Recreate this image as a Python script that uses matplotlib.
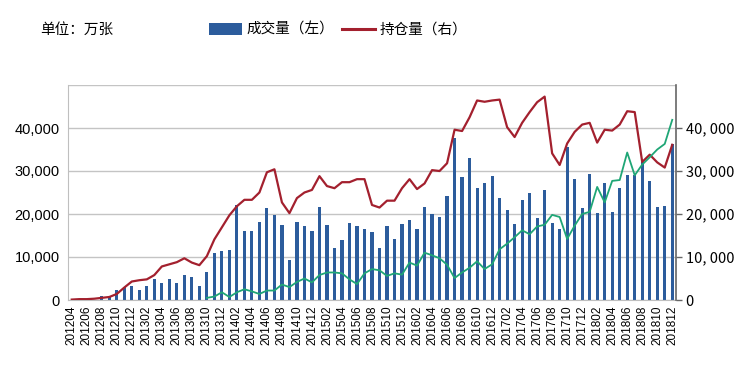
import matplotlib
matplotlib.use("Agg")
import matplotlib.pyplot as plt
import matplotlib.ticker as mticker
from matplotlib.patches import Patch
from matplotlib.lines import Line2D
import numpy as np

months = [f"{y}{m:02d}" for y in range(2012, 2019) for m in range(1, 13)][3:]  # 201204..201812

volume = [0, 0, 0, 0, 900, 600, 2400, 3000, 3200, 2400,
          3200, 5000, 4000, 4800, 4000, 5700, 5300, 3300, 6600, 11000,
          11300, 11700, 22100, 16100, 16100, 18100, 21500, 19800, 17400, 9400,
          18200, 17100, 16000, 21700, 17500, 12200, 14000, 18000, 17100, 16400,
          15700, 12200, 17200, 14100, 17700, 18600, 16400, 21700, 19900, 19200,
          24200, 37600, 28600, 33100, 26100, 27300, 28900, 23700, 20900, 17700,
          23300, 24800, 19000, 25600, 18000, 16400, 35600, 28100, 21300, 29400,
          20300, 27100, 20400, 26100, 29100, 29100, 32000, 27600, 21600, 21800,
          36200]

open_interest = [100, 200, 200, 300, 500, 700, 1400, 2900, 4300, 4600,
                 4800, 5800, 7800, 8300, 8800, 9700, 8700, 8100, 10200, 14100,
                 16900, 19700, 21800, 23300, 23300, 25000, 29700, 30400, 22700, 20200,
                 23700, 25000, 25600, 28800, 26500, 26000, 27400, 27400, 28100, 28100,
                 22100, 21500, 23100, 23100, 26000, 28100, 25800, 27100, 30200, 30000,
                 31800, 39600, 39300, 42500, 46400, 46100, 46400, 46600, 40200, 37900,
                 41200, 43700, 46000, 47300, 34100, 31400, 36400, 39100, 40800, 41200,
                 36600, 39600, 39400, 40800, 43900, 43700, 32100, 33800, 32000, 30800,
                 36100]

green_series = [None] * 18 + [500, 800,
                1800, 700, 1800, 2500, 2000, 1400, 2200, 2200, 3600, 3000,
                4200, 5000, 4100, 5800, 6400, 6400, 6200, 4800, 3700, 6200,
                7200, 6900, 5600, 6200, 5900, 8700, 8000, 11000, 10400, 9700,
                8200, 5100, 6400, 7500, 9000, 7200, 8300, 11800, 13100, 14600,
                16200, 15300, 17100, 17500, 19800, 19300, 14200, 17300, 20000, 20500,
                26300, 22700, 27700, 27900, 34300, 29000, 31500, 33200, 35000, 36300,
                41900]

left_ticks = [0, 10000, 20000, 30000, 40000]
right_ticks = [0, 10000, 20000, 30000, 40000]

BLUE = "#2C5C9C"
RED = "#A3202E"
GREEN = "#1FA676"
GRID = "#C4C4C4"
CJK = ["Noto Sans CJK SC", "DejaVu Sans"]

fig = plt.figure(figsize=(7.55, 3.83), dpi=100)
ax = fig.add_axes([68 / 755, 1 - 300 / 383, (676 - 68) / 755, (300 - 85) / 383])
x = np.arange(len(months))

ax.bar(x, volume, width=0.42, color=BLUE, zorder=2)
ax.set_xlim(-0.5, len(months) - 0.5)
ax.set_ylim(0, 50000)
ax.set_yticks(left_ticks)
ax.yaxis.set_major_formatter(mticker.FuncFormatter(lambda v, p: f"{int(v):,}"))
ax.set_yticks([0, 10000, 20000, 30000, 40000, 50000], minor=False)
ax.set_yticklabels([f"{v:,}" for v in left_ticks] + [""])
ax.grid(axis="y", color=GRID, linewidth=1.0, zorder=0)
ax.set_axisbelow(True)
ax.tick_params(axis="y", length=0, labelsize=10.5, pad=6)
for lbl in ax.get_yticklabels():
    lbl.set_family("Liberation Sans")

ax.set_xticks(x[::2])
ax.set_xticklabels(months[::2], rotation=90, fontsize=8.5, family="Liberation Sans")
ax.tick_params(axis="x", length=0, pad=4)

for s in ["top"]:
    ax.spines[s].set_visible(False)
ax.spines["left"].set_color("#BFBFBF")
ax.spines["bottom"].set_color("#BFBFBF")
ax.spines["right"].set_visible(False)

ax2 = ax.twinx()
ax2.plot(x, open_interest, color=RED, linewidth=1.6, zorder=3)
gx = [i for i, v in enumerate(green_series) if v is not None]
gy = [v for v in green_series if v is not None]
ax2.plot(gx, gy, color=GREEN, linewidth=1.3, zorder=3)
ax2.set_ylim(0, 50000)
ax2.set_yticks(right_ticks)
ax2.set_yticklabels([f"{v:,}".replace(",", ", ") for v in right_ticks], family=CJK, fontsize=10.5)
ax2.tick_params(axis="y", length=4, width=1, color="#666666", pad=3)
ax2.spines["right"].set_color("#666666")
ax2.spines["right"].set_linewidth(1.2)
for s in ["top", "left", "bottom"]:
    ax2.spines[s].set_visible(False)

fig.text(40 / 755, 1 - 30 / 383, "单位：万张", family=CJK, fontsize=10.5, va="center", ha="left")

handles = [Patch(facecolor=BLUE, edgecolor="none"),
           Line2D([0], [0], color=RED, linewidth=2.2)]
fig.legend(handles, ["成交量（左）", "持仓量（右）"], loc="center left",
           bbox_to_anchor=(203 / 755, 1 - 30 / 383), ncol=2, frameon=False,
           prop={"family": CJK, "size": 10.5}, handlelength=2.3, handleheight=0.9,
           handletextpad=0.3, columnspacing=0.5, borderaxespad=0)

fig.savefig("out.png", dpi=100)
